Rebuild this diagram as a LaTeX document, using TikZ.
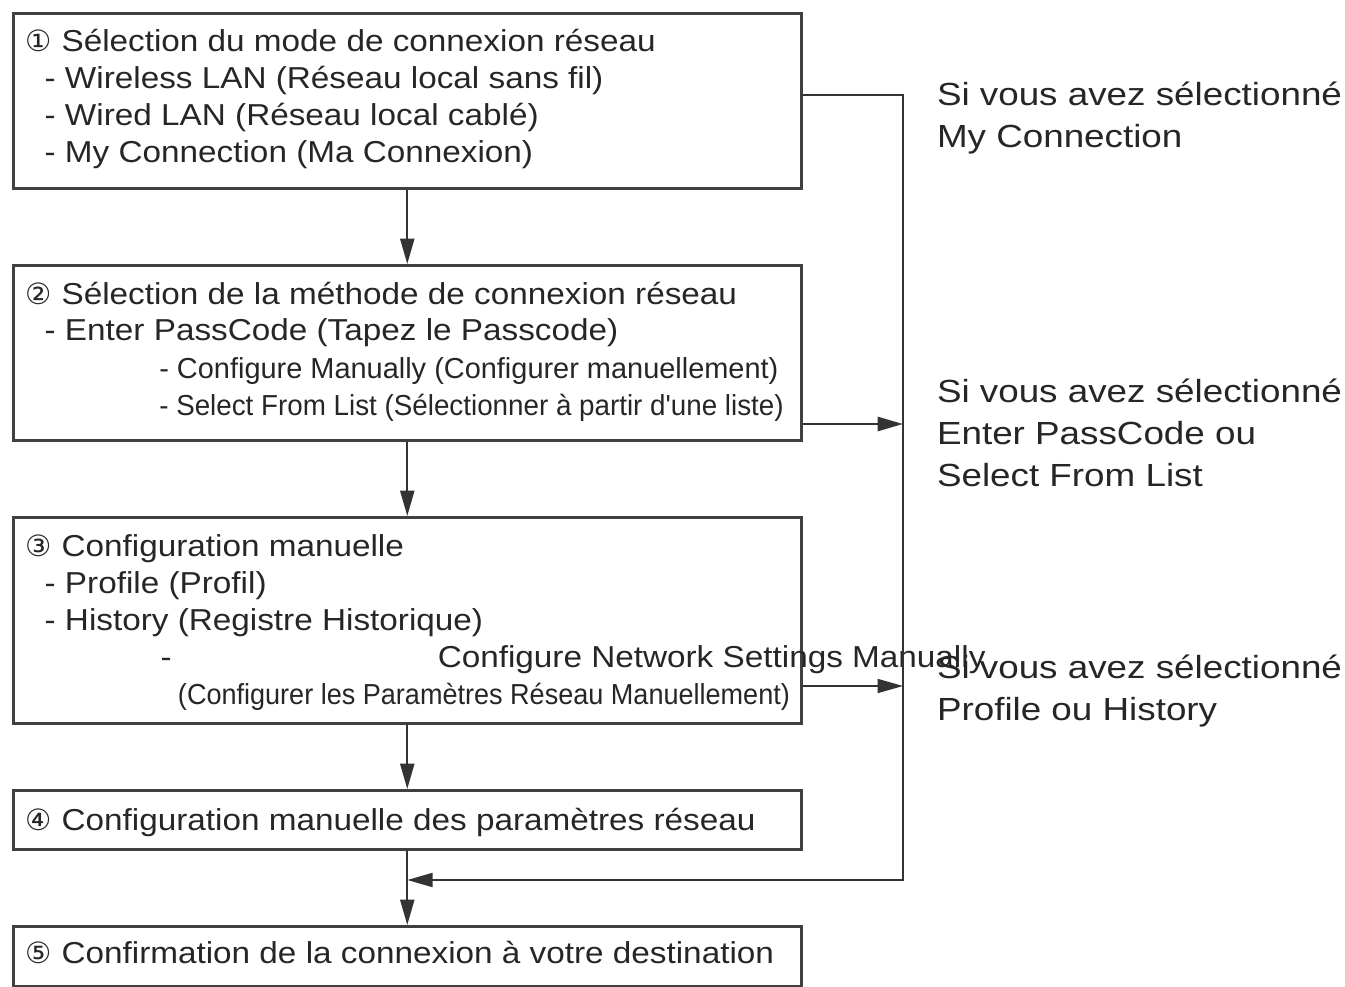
\documentclass[tikz,border=0pt]{standalone}
\usepackage{fontspec}
\setmainfont{Liberation Sans}[FakeStretch=1.1]
\newfontfamily\narrowfont{Liberation Sans}[FakeStretch=0.96]
\newfontfamily\widenarrowfont{Liberation Sans}[FakeStretch=1.0]
\newfontfamily\slimnarrowfont{Liberation Sans}[FakeStretch=0.935]
\newfontfamily\sidefont{Liberation Sans}[FakeStretch=1.15]
\newfontfamily\circfont{DejaVu Sans}
\usetikzlibrary{arrows.meta}
\newcommand\cnum[1]{{\circfont\fontsize{22}{20}\selectfont #1}}
\newcommand\narrowline[2][\narrowfont]{{#1\fontsize{21.7}{27.75}\selectfont #2}}

\begin{document}
\begin{tikzpicture}[x=.75pt,y=-.75pt,line width=1.5pt,
  box/.style={draw=black!75,line width=1.9pt,minimum width=591pt,inner sep=0pt,anchor=north west},
  boxtext/.style={anchor=base west,inner sep=0pt,align=left,text=black!85,font=\fontsize{22.7}{27.75}\selectfont},
  sidetext/.style={anchor=base west,inner sep=0pt,align=left,text=black!85,font=\sidefont\fontsize{24}{31.5}\selectfont},
  link/.style={draw=black!80,line width=1.6pt},
  arr/.style={link,-{Triangle[length=19pt,width=10.5pt]}}]
\path[use as bounding box] (0,0) rectangle (1345,987);
\node[box,minimum height=131.25pt] (mode) at (12,12) {};
\node[box,minimum height=131.25pt] (method) at (12,264) {};
\node[box,minimum height=154.5pt] (manual) at (12,516) {};
\node[box,minimum height=44.25pt] (params) at (12,789) {};
\node[box,minimum height=45pt] (confirm) at (12,925) {};
\node[boxtext] (modetext) at (25,163) {\cnum{①} Sélection du mode de connexion réseau\\
  \hspace*{14pt}- Wireless LAN (Réseau local sans fil)\\
  \hspace*{14pt}- Wired LAN (Réseau local cablé)\\
  \hspace*{14pt}- My Connection (Ma Connexion)};
\node[boxtext] (methodtext) at (25,415) {\cnum{②} Sélection de la méthode de connexion réseau\\
  \hspace*{14pt}- Enter PassCode (Tapez le Passcode)\\
  \hspace*{100pt}\narrowline[\widenarrowfont]{- Configure Manually (Configurer manuellement)}\\
  \hspace*{100pt}\narrowline{- Select From List (Sélectionner à partir d'une liste)}};
\node[boxtext] (manualtext) at (25,704) {\cnum{③} Configuration manuelle\\
  \hspace*{14pt}- Profile (Profil)\\
  \hspace*{14pt}- History (Registre Historique)\\
  \hspace*{101pt}-\hspace*{199.5pt}Configure Network Settings Manually\\
  \hspace*{114pt}\narrowline[\slimnarrowfont]{(Configurer les Paramètres Réseau Manuellement)}};
\node[boxtext] (paramstext) at (25,830) {\cnum{④} Configuration manuelle des paramètres réseau};
\node[boxtext] (confirmtext) at (25,963) {\cnum{⑤} Confirmation de la connexion à votre destination};
\node[sidetext] (ifmine) at (936,148) {Si vous avez sélectionné\\My Connection};
\node[sidetext] (ifcode) at (936,486) {Si vous avez sélectionné\\Enter PassCode ou\\Select From List};
\node[sidetext] (ifprofile) at (936,720) {Si vous avez sélectionné\\Profile ou History};
\coordinate (j1) at (903,95);
\coordinate (j2) at (903,424);
\coordinate (j3) at (903,686);
\coordinate (j4) at (903,880);
\draw[arr] (mode.south) -- (method.north);
\draw[arr] (method.south) -- (manual.north);
\draw[arr] (manual.south) -- (params.north);
\draw[arr] (params.south) -- (confirm.north);
\draw[arr] (mode.east |- j1) -- (j1) -- (j4) -- (params.south |- j4);
\draw[arr,line width=2pt] (method.east |- j2) -- (j2);
\draw[arr,line width=1.2pt] (manual.east |- j3) -- (j3);
\end{tikzpicture}
\end{document}
